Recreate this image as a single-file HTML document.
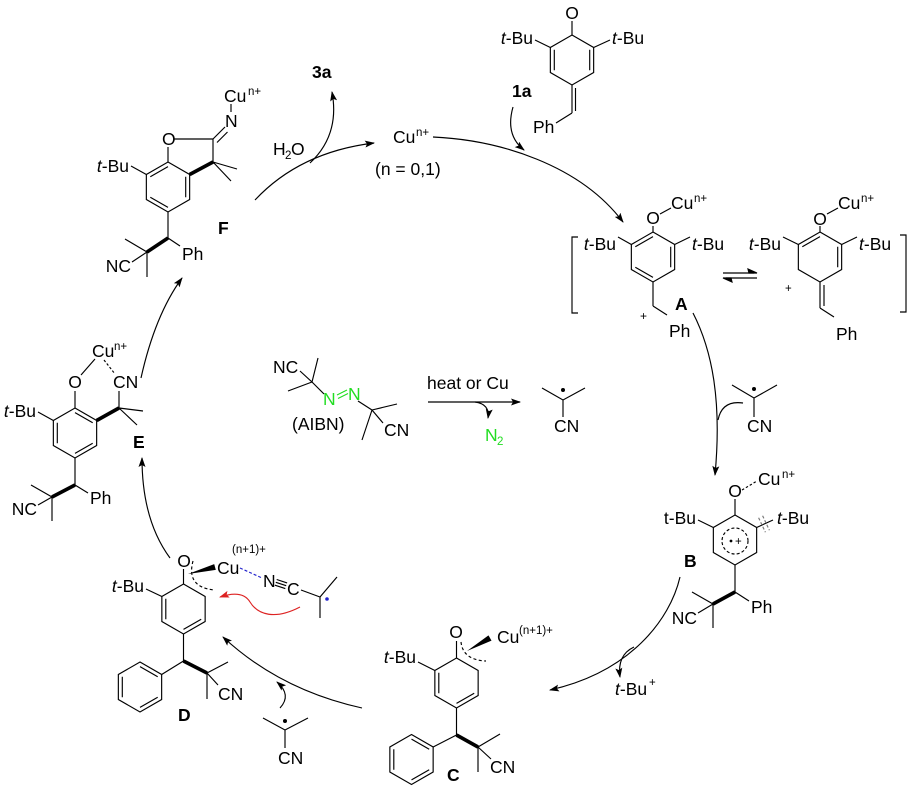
<!DOCTYPE html>
<html><head><meta charset="utf-8">
<style>
html,body{margin:0;padding:0;background:#fff;}
svg{display:block;}
text{font-family:"Liberation Sans",Arial,sans-serif;font-size:17.5px;fill:#000;}
.s{font-size:11.5px;}
.b{font-weight:bold;}
.g{fill:#22dd22;}
</style></head><body>
<svg width="908" height="790" viewBox="0 0 908 790" xmlns="http://www.w3.org/2000/svg">
<defs>
<marker id="ah" markerWidth="12" markerHeight="10" refX="9" refY="3.5" orient="auto" markerUnits="userSpaceOnUse">
<path d="M0,0 L10,3.5 L0,7 L2,3.5 z" fill="#000"/>
</marker>
<marker id="ahr" markerWidth="12" markerHeight="10" refX="9" refY="3.5" orient="auto" markerUnits="userSpaceOnUse">
<path d="M0,0 L10,3.5 L0,7 L2,3.5 z" fill="#dd2222"/>
</marker>
</defs>
<rect width="908" height="790" fill="#fff"/>

<g fill="none" stroke="#000" stroke-width="1.15">
<!-- ===== F ===== -->
<g transform="translate(168,187)">
<path d="M0,-25 L21.65,-12.5 L21.65,12.5 L0,25 L-21.65,12.5 L-21.65,-12.5 Z"/>
<path d="M-17.7,-10.2 L0,-20.4 M17.7,-10.2 L17.7,10.2 M0,20.4 L-17.7,10.2"/>
</g>
<path d="M174,139 L213,139 M213,139 L213,162 M213,139 L225,127 M217,142.5 L227.5,132 M231,104 L231,112 M168,147 L168,162 M213,162 L237,169 M213,162 L231,181 M146.35,174.5 L131,166 M168,212 L168,238 M168,238 L180,246 M147,252 L125,239 M147,252 L132,262 M147,252 L147,277"/>
<path d="M213,162 L189.65,174.5 M168,238 L147,252" stroke-width="3.6"/>

<!-- ===== 1a ===== -->
<g transform="translate(572,60)">
<path d="M0,-25 L21.65,-12.5 L21.65,12.5 L0,25 L-21.65,12.5 L-21.65,-12.5 Z"/>
<path d="M-17.7,10.2 L-17.7,-10.2 M17.7,-10.2 L17.7,10.2"/>
</g>
<path d="M572,35 L572,21 M550.35,47.5 L535,40 M593.65,47.5 L610,40 M572,85 L572,113 M575.5,88 L575.5,111 M572,113 L556,123"/>

<!-- ===== A ===== -->
<path d="M578,237 L572,237 L572,313 L578,313"/>
<g transform="translate(653,257)">
<path d="M0,-25 L21.65,-12.5 L21.65,12.5 L0,25 L-21.65,12.5 L-21.65,-12.5 Z"/>
<path d="M-17.7,-10.2 L0,-20.4 M17.7,-10.2 L17.7,10.2 M0,20.4 L-17.7,10.2"/>
</g>
<path d="M653,226 L653,232 M660,214 L671,208 M631.35,244.5 L618,237 M674.65,244.5 L690,237 M653,282 L653,306 M653,306 L667,315"/>
<!-- equilibrium -->
<path d="M723,273 L754,273 M726,278 L757,278"/>
<path d="M757,273 L748,269 L749,273 Z M723,278 L732,282 L731,278 Z" fill="#000"/>
<!-- ===== A' ===== -->
<g transform="translate(820,257)">
<path d="M0,-25 L21.65,-12.5 L21.65,12.5 L0,25 L-21.65,12.5 L-21.65,-12.5 Z"/>
<path d="M-17.7,-10.2 L0,-20.4 M17.7,-10.2 L17.7,10.2"/>
</g>
<path d="M820,226 L820,232 M827,214 L838,208 M798.35,244.5 L783,237 M841.65,244.5 L857,237 M820,282 L820,308 M824,285 L824,306 M820,308 L834,317"/>
<path d="M900,235 L906,235 L906,312 L900,312"/>

<!-- radical near A->B -->
<path d="M732,385 L754,398 L777,385 M754,398 L754,417"/>

<!-- ===== B ===== -->
<g transform="translate(735,540)">
<path d="M0,-25 L21.65,-12.5 L21.65,12.5 L0,25 L-21.65,12.5 L-21.65,-12.5 Z"/>
</g>
<circle cx="735" cy="541" r="13" stroke-dasharray="3,2.2"/>
<path d="M735,499 L735,515 M713.35,527.5 L698,520 M756.65,527.5 L773,520 M735,565 L735,592 M735,592 L749,601 M713,604 L692,592 M713,604 L698,613 M713,604 L713,628"/>
<path d="M742,490 L757,481" stroke-dasharray="2.5,2"/>
<path d="M758.6,517.7 L765.4,532.3 M762.6,515.7 L769.4,530.3" stroke="#777" stroke-dasharray="3,2"/>
<path d="M735,592 L713,604" stroke-width="3.6"/>

<!-- ===== C ===== -->
<g transform="translate(456.5,683)">
<path d="M0,-25 L21.65,-12.5 L21.65,12.5 L0,25 L-21.65,12.5 L-21.65,-12.5 Z"/>
<path d="M-17.7,10.2 L-17.7,-10.2 M17.7,10.2 L0,20.4"/>
</g>
<g transform="translate(411.5,759.5)">
<path d="M0,-25 L21.65,-12.5 L21.65,12.5 L0,25 L-21.65,12.5 L-21.65,-12.5 Z"/>
<path d="M0,-20.4 L17.7,-10.2 M17.7,10.2 L0,20.4 M-17.7,10.2 L-17.7,-10.2"/>
</g>
<path d="M456.5,641 L456.5,658 M434.85,670.5 L418,662 M456.5,708 L456.5,735 M456.5,735 L433.15,747 M478,747 L500,734 M478,747 L491,759 M478,747 L478,772"/>
<path d="M456.5,735 L478,747" stroke-width="3.6"/>
<path d="M461,642 Q463,660 486,661" stroke-dasharray="3,2.5"/>

<!-- ===== D ===== -->
<g transform="translate(183.5,609)">
<path d="M0,-25 L21.65,-12.5 L21.65,12.5 L0,25 L-21.65,12.5 L-21.65,-12.5 Z"/>
<path d="M-17.7,10.2 L-17.7,-10.2 M17.7,10.2 L0,20.4"/>
</g>
<g transform="translate(140,687)">
<path d="M0,-25 L21.65,-12.5 L21.65,12.5 L0,25 L-21.65,12.5 L-21.65,-12.5 Z"/>
<path d="M0,-20.4 L17.7,-10.2 M17.7,10.2 L0,20.4 M-17.7,10.2 L-17.7,-10.2"/>
</g>
<path d="M183.5,569 L183.5,584 M161.85,596.5 L146,589 M183.5,634 L183.5,661 M183.5,661 L161.65,674.5 M207,673 L228,662 M207,673 L218,685 M207,673 L207,699"/>
<path d="M183.5,661 L207,673" stroke-width="3.6"/>
<path d="M193,561 Q186,587 214,590" stroke-dasharray="3,2.5"/>
<path d="M240,568 L262,578" stroke="#2222cc" stroke-dasharray="3,2"/>
<path d="M275.8,582.3 L286.2,585.7 M274.9,585.2 L285.3,588.6 M276.7,579.5 L287.1,582.9"/>
<path d="M301,590 L320,597 M320,597 L337,577 M320,597 L320,618"/>
<!-- radical below D arrow -->
<path d="M263,718 L285,730 L308,718 M285,730 L285,748"/>

<!-- ===== E ===== -->
<g transform="translate(75,433)">
<path d="M0,-25 L21.65,-12.5 L21.65,12.5 L0,25 L-21.65,12.5 L-21.65,-12.5 Z"/>
<path d="M0,-20.4 L17.7,-10.2 M17.7,10.2 L0,20.4 M-17.7,10.2 L-17.7,-10.2"/>
</g>
<path d="M75,391 L75,408 M81,375 L95,359 M119,391 L119,408 M119,408 L143,411 M119,408 L137,425 M53.35,420.5 L38,412 M75,458 L75,485 M75,485 L88,493 M52,497 L31,485 M52,497 L38,505 M52,497 L52,521"/>
<path d="M104,360 L115,374" stroke-dasharray="2.5,2"/>
<path d="M96.65,420.5 L119,408 M75,485 L52,497" stroke-width="3.6"/>

<!-- ===== AIBN ===== -->
<path d="M300,371 L312,382 M312,382 L318,358 M312,382 L288,391 M312,382 L324,394 M358,401 L372,410 M372,410 L397,404 M372,410 L362,440 M372,410 L383,423"/>
<path d="M337,395 L347,390 M338,398.5 L348,393.5" stroke="#22dd22"/>
<path d="M542,388 L563,400 L585,388 M563,400 L563,417"/>

<!-- ===== Arrows ===== -->
<path d="M255,200 Q300,152 374,143" marker-end="url(#ah)"/>
<path d="M310,163 Q340,135 332,92" marker-end="url(#ah)"/>
<path d="M433,137 C500,140 580,165 623,222" marker-end="url(#ah)"/>
<path d="M513,107 Q505,135 524,150" marker-end="url(#ah)"/>
<path d="M693,313 C712,350 722,400 715,475" marker-end="url(#ah)"/>
<path d="M743,403 Q722,400 718,420"/>
<path d="M680,577 C670,620 630,672 550,690" marker-end="url(#ah)"/>
<path d="M634,647 Q617,655 620,677" marker-end="url(#ah)"/>
<path d="M362,708 Q280,690 223,637" marker-end="url(#ah)"/>
<path d="M280,708 Q292,695 277,682" marker-end="url(#ah)"/>
<path d="M170,558 Q142,520 142,458" marker-end="url(#ah)"/>
<path d="M141,378 Q155,315 182,278" marker-end="url(#ah)"/>
<path d="M428,402 L520,402" marker-end="url(#ah)"/>
<path d="M475,402 Q490,404 488,418" marker-end="url(#ah)"/>
<path d="M300,607 C275,620 258,615 250,602 C244,592 232,593 220,597" stroke="#dd2222" marker-end="url(#ahr)"/>
</g>

<!-- filled wedges & dots -->
<polygon points="467,651 491.5,640.6 488.5,635.4" fill="#000"/>
<polygon points="188,574 215.8,569.9 214.2,564.1" fill="#000"/>
<circle cx="754" cy="389" r="2" fill="#000"/>
<circle cx="285" cy="721" r="2" fill="#000"/>
<circle cx="563" cy="390" r="2" fill="#000"/>
<circle cx="327" cy="599" r="1.8" fill="#2222cc"/>
<circle cx="731" cy="541" r="1.4" fill="#000"/>

<!-- ===== Text: F ===== -->
<text x="224" y="102">Cu</text><text class="s" x="248" y="95">n+</text>
<text x="225" y="127">N</text>
<text x="162" y="145">O</text>
<text x="129" y="172" text-anchor="end"><tspan font-style="italic">t</tspan>-Bu</text>
<text x="182" y="260">Ph</text>
<text x="131" y="272" text-anchor="end">NC</text>
<text class="b" x="218" y="234">F</text>

<!-- top -->
<text class="b" x="312" y="78">3a</text>
<text x="273" y="155">H</text><text class="s" x="285" y="159">2</text><text x="291" y="155">O</text>
<text x="393" y="143">Cu</text><text class="s" x="416" y="136">n+</text>
<text x="375" y="175">(n = 0,1)</text>

<!-- 1a -->
<text class="b" x="512" y="97">1a</text>
<text x="572" y="19" text-anchor="middle">O</text>
<text x="533" y="44" text-anchor="end"><tspan font-style="italic">t</tspan>-Bu</text>
<text x="612" y="44"><tspan font-style="italic">t</tspan>-Bu</text>
<text x="533" y="133">Ph</text>

<!-- A -->
<text x="653" y="224" text-anchor="middle">O</text>
<text x="671" y="209">Cu</text><text class="s" x="694" y="202">n+</text>
<text x="616" y="250" text-anchor="end"><tspan font-style="italic">t</tspan>-Bu</text>
<text x="692" y="250"><tspan font-style="italic">t</tspan>-Bu</text>
<text class="s" x="640" y="320" style="font-size:12px">+</text>
<text x="669" y="337">Ph</text>
<text class="b" x="675" y="310">A</text>
<!-- A' -->
<text x="820" y="225" text-anchor="middle">O</text>
<text x="838" y="209">Cu</text><text class="s" x="861" y="202">n+</text>
<text x="781" y="250" text-anchor="end"><tspan font-style="italic">t</tspan>-Bu</text>
<text x="859" y="250"><tspan font-style="italic">t</tspan>-Bu</text>
<text class="s" x="785" y="292">+</text>
<text x="836" y="340">Ph</text>

<!-- radical A->B -->
<text x="747" y="432">CN</text>

<!-- B -->
<text x="735" y="497" text-anchor="middle">O</text>
<text x="758" y="485">Cu</text><text class="s" x="782" y="478">n+</text>
<text x="696" y="524" text-anchor="end">t-Bu</text>
<text x="777" y="524"><tspan font-style="italic">t</tspan>-Bu</text>
<text class="s" x="735" y="545">+</text>
<text x="751" y="613">Ph</text>
<text x="697" y="624" text-anchor="end">NC</text>
<text class="b" x="684" y="567">B</text>

<!-- t-Bu+ -->
<text x="615" y="695"><tspan font-style="italic">t</tspan>-Bu</text><text class="s" x="649" y="686">+</text>

<!-- C -->
<text x="456" y="638" text-anchor="middle">O</text>
<text x="497" y="643">Cu</text><text class="s" x="519" y="634">(n+1)+</text>
<text x="416" y="663" text-anchor="end"><tspan font-style="italic">t</tspan>-Bu</text>
<text x="490" y="773">CN</text>
<text class="b" x="447" y="781">C</text>

<!-- D -->
<text x="184" y="567" text-anchor="middle">O</text>
<text x="217" y="574">Cu</text><text class="s" x="232" y="553">(n+1)+</text>
<text x="144" y="592" text-anchor="end"><tspan font-style="italic">t</tspan>-Bu</text>
<text x="263" y="587">N</text>
<text x="287" y="595">C</text>
<text x="218" y="700">CN</text>
<text class="b" x="178" y="721">D</text>
<text x="278" y="764">CN</text>

<!-- E -->
<text x="92" y="357">Cu</text><text class="s" x="114" y="350">n+</text>
<text x="75" y="388" text-anchor="middle">O</text>
<text x="113" y="388">CN</text>
<text x="36" y="417" text-anchor="end"><tspan font-style="italic">t</tspan>-Bu</text>
<text class="b" x="133" y="448">E</text>
<text x="90" y="504">Ph</text>
<text x="37" y="515" text-anchor="end">NC</text>

<!-- AIBN -->
<text x="273" y="373">NC</text>
<text class="g" x="323" y="405">N</text>
<text class="g" x="348" y="400">N</text>
<text x="384" y="436">CN</text>
<text x="292" y="430">(AIBN)</text>
<text x="427" y="389">heat or Cu</text>
<text class="g" x="485" y="441">N</text><text class="s g" x="497" y="445">2</text>
<text x="554" y="432">CN</text>
</svg>
</body></html>
